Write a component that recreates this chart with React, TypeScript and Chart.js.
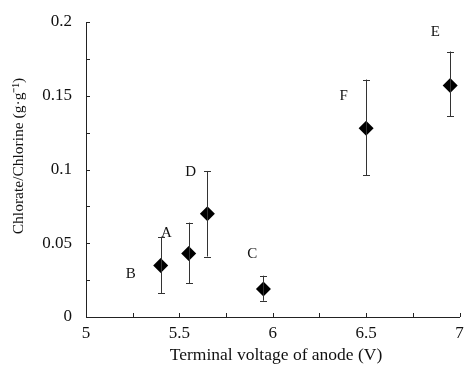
import React, { useEffect, useRef } from "react";
import { Chart, registerables } from "chart.js";

Chart.register(...registerables);

const pointNames = ["B", "A", "D", "C", "F", "E"];
const xValues = [5.4, 5.55, 5.65, 5.95, 6.5, 6.95];
const yValues = [0.035, 0.043, 0.07, 0.019, 0.128, 0.157];
const errLow = [0.016, 0.023, 0.041, 0.011, 0.096, 0.136];
const errHigh = [0.054, 0.064, 0.099, 0.028, 0.161, 0.18];
const nameX = [5.24, 5.43, 5.56, 5.89, 6.38, 6.87];
const nameY = [0.029, 0.057, 0.098, 0.043, 0.15, 0.193];

const xTitle = "Terminal voltage of anode (V)";
const yTitle = "Chlorate/Chlorine (g·g⁻¹)";
const FONT = "'Liberation Serif', 'Times New Roman', serif";

const fmt = (v: any) => String(Number(Number(v).toFixed(3)));

const decorPlugin = {
  id: "decor",
  afterDatasetsDraw(chart: any) {
    const { ctx, chartArea } = chart;
    const xs = chart.scales.x;
    const ys = chart.scales.y;
    ctx.save();
    ctx.strokeStyle = "#222";
    ctx.lineWidth = 1;
    for (let v = 5.25; v <= 7.001; v += 0.25) {
      const px = Math.round(xs.getPixelForValue(v)) + 0.5;
      ctx.beginPath();
      ctx.moveTo(px, chartArea.bottom);
      ctx.lineTo(px, chartArea.bottom - 4);
      ctx.stroke();
    }
    for (let v = 0.025; v <= 0.2001; v += 0.025) {
      const py = Math.round(ys.getPixelForValue(v)) + 0.5;
      ctx.beginPath();
      ctx.moveTo(chartArea.left, py);
      ctx.lineTo(chartArea.left + 4, py);
      ctx.stroke();
    }
    ctx.strokeStyle = "#333";
    for (let i = 0; i < xValues.length; i++) {
      const px = Math.round(xs.getPixelForValue(xValues[i])) + 0.5;
      const pl = ys.getPixelForValue(errLow[i]);
      const ph = ys.getPixelForValue(errHigh[i]);
      ctx.beginPath();
      ctx.moveTo(px, pl);
      ctx.lineTo(px, ph);
      ctx.moveTo(px - 3.5, Math.round(pl) + 0.5);
      ctx.lineTo(px + 3.5, Math.round(pl) + 0.5);
      ctx.moveTo(px - 3.5, Math.round(ph) + 0.5);
      ctx.lineTo(px + 3.5, Math.round(ph) + 0.5);
      ctx.stroke();
    }
    ctx.fillStyle = "#111";
    ctx.font = `15px ${FONT}`;
    ctx.textAlign = "center";
    ctx.textBaseline = "middle";
    for (let i = 0; i < pointNames.length; i++) {
      ctx.fillText(pointNames[i], xs.getPixelForValue(nameX[i]), ys.getPixelForValue(nameY[i]));
    }
    ctx.restore();
  },
  afterDraw(chart: any) {
    const { ctx, chartArea } = chart;
    ctx.save();
    ctx.fillStyle = "#111";
    ctx.textAlign = "center";
    ctx.textBaseline = "middle";
    ctx.font = `17.5px ${FONT}`;
    ctx.fillText(xTitle, chartArea.left + 190, chartArea.bottom + 38);
    ctx.font = `15.5px ${FONT}`;
    ctx.translate(chartArea.left - 67, chartArea.top + 134);
    ctx.rotate(-Math.PI / 2);
    ctx.fillText(yTitle, 0, 0);
    ctx.restore();
  },
};

export default function App() {
  const ref = useRef<HTMLCanvasElement | null>(null);
  useEffect(() => {
    if (!ref.current) return;
    const chart = new Chart(ref.current, {
      type: "scatter",
      data: {
        datasets: [
          {
            data: xValues.map((x, i) => ({ x, y: yValues[i] })),
            pointStyle: "rectRot",
            pointRadius: 7.5,
            pointHoverRadius: 7.5,
            backgroundColor: "#000",
            borderColor: "#000",
            borderWidth: 0,
          },
        ],
      },
      options: {
        animation: false,
        responsive: true,
        maintainAspectRatio: false,
        layout: { padding: { top: 22, right: 3, left: 0, bottom: 0 } },
        plugins: { legend: { display: false }, tooltip: { enabled: false } },
        scales: {
          x: {
            type: "linear",
            min: 5,
            max: 7,
            ticks: { stepSize: 0.5, color: "#111", font: { family: FONT, size: 17 }, padding: 6, maxRotation: 0, callback: fmt },
            grid: { display: false, drawTicks: false },
            border: { display: true, color: "#222", width: 1 },
            afterFit: (s: any) => { s.height = 54; s.paddingRight = 0; s.paddingLeft = 0; },
          },
          y: {
            type: "linear",
            min: 0,
            max: 0.2,
            ticks: { stepSize: 0.05, color: "#111", font: { family: FONT, size: 17 }, padding: 14, callback: fmt },
            grid: { display: false, drawTicks: false },
            border: { display: true, color: "#222", width: 1 },
            afterFit: (s: any) => { s.width = 86; s.paddingTop = 0; s.paddingBottom = 0; },
          },
        },
      },
      plugins: [decorPlugin],
    });
    return () => chart.destroy();
  }, []);
  return (
    <div style={{ position: "fixed", left: 0, top: 0, width: 467, height: 371, background: "#fff" }}>
      <canvas ref={ref} />
    </div>
  );
}
